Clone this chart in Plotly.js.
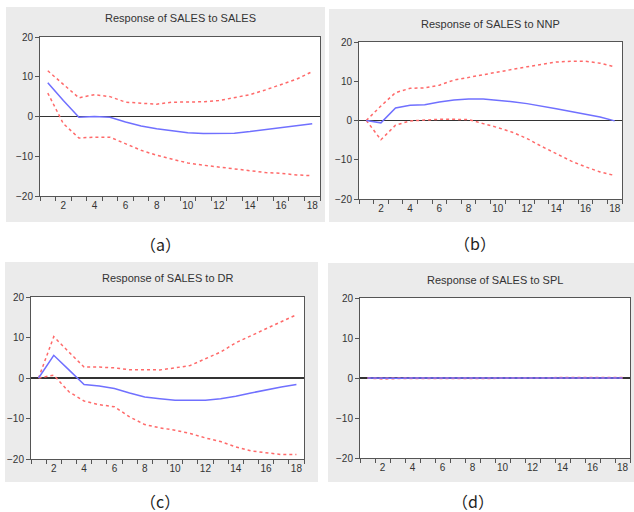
<!DOCTYPE html>
<html>
<head>
<meta charset="utf-8">
<script src="https://cdn.plot.ly/plotly-3.0.1.min.js"></script>
<style>html,body{margin:0;padding:0;background:#fff;}#chart{width:634px;height:512px;}</style>
</head>
<body>
<div id="chart"></div>
<script>
var periods = [1,2,3,4,5,6,7,8,9,10,11,12,13,14,15,16,17,18];
var titles = ["Response of SALES to SALES","Response of SALES to NNP","Response of SALES to DR","Response of SALES to SPL"];
var panelLabels = ["（a）","（b）","（c）","（d）"];
var xTickVals = [2,4,6,8,10,12,14,16,18];
var yTickVals = [-20,-10,0,10,20];

var salesResp  = [8.5,4,-0.2,0,-0.2,-1.4,-2.4,-3.1,-3.6,-4.1,-4.3,-4.3,-4.2,-3.8,-3.3,-2.8,-2.3,-1.8];
var salesUpper = [11.5,8.2,4.7,5.5,5,3.6,3.3,3.1,3.6,3.6,3.7,4,4.7,5.5,6.7,8,9.4,11.3];
var salesLower = [5.9,-1.8,-5.4,-5.2,-5.2,-6.8,-8.5,-9.75,-10.8,-11.7,-12.25,-12.7,-13.25,-13.7,-14.1,-14.3,-14.7,-14.9];

var nnpResp  = [0,-0.6,3.2,3.9,4,4.7,5.2,5.5,5.5,5.2,4.8,4.3,3.7,3,2.3,1.6,0.9,-0.1];
var nnpUpper = [0,3.7,7.1,8.2,8.3,9,10.3,11,11.7,12.4,13.1,13.7,14.3,14.9,15.1,15.1,14.6,13.7];
var nnpLower = [0,-4.9,-1.2,-0.1,0.1,0.3,0.3,0.25,-0.8,-1.8,-3,-4.6,-6.6,-8.4,-10.3,-11.8,-13.1,-14];

var drResp  = [0,5.6,2,-1.6,-2,-2.6,-3.7,-4.7,-5.1,-5.5,-5.5,-5.5,-5.1,-4.5,-3.7,-2.9,-2.2,-1.6];
var drUpper = [0,10.2,6.4,2.7,2.7,2.5,2.05,2,2,2.5,3.1,4.75,6.4,8.7,10.5,12.3,13.9,15.6];
var drLower = [0,0.7,-3.4,-5.7,-6.6,-7.1,-9.6,-11.5,-12.3,-12.9,-13.7,-14.8,-15.7,-17,-18,-18.4,-18.9,-18.9];

var splResp  = [0,-0.1,-0.05,-0.03,-0.02,-0.02,-0.02,-0.02,-0.02,-0.02,-0.02,-0.02,-0.01,0,0,0.02,0.02,0.02];
var splUpper = [0,0.05,0.05,0.05,0.05,0.05,0.05,0.05,0.05,0.05,0.05,0.05,0.08,0.1,0.1,0.1,0.1,0.12];
var splLower = [0,-0.25,-0.15,-0.1,-0.1,-0.1,-0.1,-0.1,-0.1,-0.1,-0.1,-0.1,-0.1,-0.08,-0.08,-0.06,-0.06,-0.06];

var panels = [
  {resp: salesResp, up: salesUpper, lo: salesLower},
  {resp: nnpResp, up: nnpUpper, lo: nnpLower},
  {resp: drResp, up: drUpper, lo: drLower},
  {resp: splResp, up: splUpper, lo: splLower}
];

var W = 634, H = 512;
// pixel geometry: [bgL, bgT, bgR, bgB, plotL, plotT, plotR, plotB, titleY, labelX, labelY]
var geom = [
  [6, 7, 325, 222, 40, 37, 320, 196, 18, 160, 244],
  [329, 9, 634, 222, 359, 42, 622, 199, 24, 475, 243],
  [5, 262, 318, 482, 31, 297, 304, 459, 278, 160, 501],
  [328, 263, 634, 482, 360, 298, 630, 458, 280, 473, 501]
];

var traces = [];
var layout = {
  width: W, height: H,
  margin: {l:0, r:0, t:0, b:0},
  paper_bgcolor: '#ffffff',
  plot_bgcolor: 'rgba(0,0,0,0)',
  showlegend: false,
  shapes: [], annotations: []
};
var fontFam = 'Liberation Sans, Arial, sans-serif';
var whiteRects = [];

panels.forEach(function(p, i) {
  var g = geom[i];
  var n = i + 1;
  var xa = 'x' + (n === 1 ? '' : n), ya = 'y' + (n === 1 ? '' : n);
  var xk = 'xaxis' + (n === 1 ? '' : n), yk = 'yaxis' + (n === 1 ? '' : n);
  layout.shapes.push({type:'rect', xref:'paper', yref:'paper', layer:'below',
    x0: g[0]/W, x1: g[2]/W, y0: 1 - g[3]/H, y1: 1 - g[1]/H,
    fillcolor:'#ebebeb', line:{width:0}});
  whiteRects.push({type:'rect', xref:'paper', yref:'paper', layer:'below',
    x0: g[4]/W, x1: g[6]/W, y0: 1 - g[7]/H, y1: 1 - g[5]/H,
    fillcolor:'#ffffff', line:{width:0}});
  layout[xk] = {
    domain: [g[4]/W, g[6]/W], anchor: ya, range: [0.5, 18.5],
    tickvals: xTickVals, ticks: '', showgrid: false, zeroline: false,
    showline: true, mirror: true, linecolor: '#555', linewidth: 1,
    tickfont: {family: fontFam, size: 10, color: '#333'},
    minor: {tick0: 0.5, dtick: 1, ticks: 'outside', ticklen: 4, tickcolor: '#555', tickwidth: 1, showgrid: false}
  };
  layout[yk] = {
    domain: [1 - g[7]/H, 1 - g[5]/H], anchor: xa, range: [-20, 20],
    tickvals: yTickVals, ticks: 'outside', ticklen: 4, tickcolor: '#555',
    showgrid: false, zeroline: true, zerolinecolor: '#333', zerolinewidth: 1.2,
    showline: true, mirror: true, linecolor: '#555', linewidth: 1,
    tickfont: {family: fontFam, size: 10, color: '#333'}
  };
  traces.push({x: periods, y: p.up, xaxis: xa, yaxis: ya, mode: 'lines',
    line: {color: '#ff6a6a', width: 1.5, dash: 'dot'}, hoverinfo: 'skip'});
  traces.push({x: periods, y: p.lo, xaxis: xa, yaxis: ya, mode: 'lines',
    line: {color: '#ff6a6a', width: 1.5, dash: 'dot'}, hoverinfo: 'skip'});
  traces.push({x: periods, y: p.resp, xaxis: xa, yaxis: ya, mode: 'lines',
    line: {color: '#7070ff', width: 1.5}, hoverinfo: 'skip'});
  layout.annotations.push({xref:'paper', yref:'paper', x: (g[4]+g[6])/2/W, y: 1 - g[8]/H,
    text: titles[i], showarrow: false, xanchor: 'center', yanchor: 'middle',
    font: {family: fontFam, size: 11, color: '#333'}});
  layout.annotations.push({xref:'paper', yref:'paper', x: g[9]/W, y: 1 - g[10]/H,
    text: panelLabels[i], showarrow: false, xanchor: 'center', yanchor: 'middle',
    font: {family: 'Noto Sans CJK SC, sans-serif', size: 16, color: '#222'}});
});
layout.shapes = layout.shapes.concat(whiteRects);

Plotly.newPlot('chart', traces, layout, {staticPlot: true});
</script>
</body>
</html>
